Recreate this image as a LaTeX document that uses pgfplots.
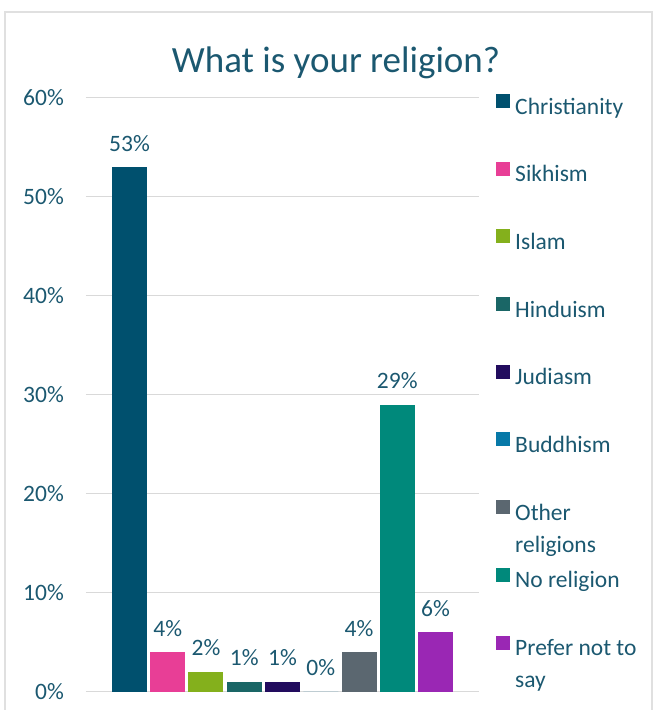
\documentclass[border=0pt]{standalone}
\usepackage{fontspec}
\setmainfont{Carlito}
\usepackage{pgfplots}
\pgfplotsset{compat=1.18}

\definecolor{txt}{RGB}{27,88,112}
\definecolor{cChr}{RGB}{0,80,110}
\definecolor{cSik}{RGB}{232,62,150}
\definecolor{cIsl}{RGB}{132,176,28}
\definecolor{cHin}{RGB}{26,102,102}
\definecolor{cJud}{RGB}{34,12,94}
\definecolor{cBud}{RGB}{7,121,168}
\definecolor{cOth}{RGB}{91,103,112}
\definecolor{cNon}{RGB}{0,137,123}
\definecolor{cPre}{RGB}{154,39,180}

\begin{document}
\begin{tikzpicture}[x=1pt,y=1pt]
\useasboundingbox (0,0) rectangle (665,-710);
\draw[black!12, line width=1.5pt] (5,-12) rectangle (652,-740);
\node[font=\fontsize{37}{40}\selectfont, text=txt, anchor=base] at (336,-72) {What is your religion?};
\begin{axis}[
  at={(86pt,-691.7pt)}, anchor=south west,
  scale only axis, width=393pt, height=594pt,
  ybar, bar width=35pt, bar shift=0pt,
  xmin=-1.137, xmax=9.137, ymin=0, ymax=60,
  xtick=\empty, ytick={0,10,...,60},
  yticklabel={\pgfmathprintnumber{\tick}\%},
  /pgf/number format/assume math mode=true,
  tick label style={font=\fontsize{23.5}{28}\selectfont, text=txt},
  yticklabel style={anchor=east, inner sep=0pt, xshift=-22pt},
  major tick length=0pt,
  axis line style={draw=none},
  ymajorgrids, grid style={draw=black!15, line width=1.5pt},
  nodes near coords={\pgfmathprintnumber{\pgfplotspointmeta}\%},
  every node near coord/.append style={font=\fontsize{23.5}{28}\selectfont, text=txt, anchor=base, inner sep=0pt, yshift=16pt},
  legend image code/.code={\fill[#1] (0pt,0.6pt) rectangle (14pt,14.6pt); \path (19pt,0pt);},
  legend cell align=left,
  legend style={at={(axis description cs:1.0433,1.0067)}, anchor=north west,
    draw=none, fill=none, inner sep=0pt, row sep=41.6pt,
    font=\fontsize{23.5}{32}\selectfont, text=txt,
    nodes={inner sep=0pt, text height=17pt, text depth=6pt}},
]
\addplot[fill=cChr, draw=none] coordinates {(0,53)};
\addlegendentry{Christianity}
\addplot[fill=cSik, draw=none] coordinates {(1,4)};
\addlegendentry{Sikhism}
\addplot[fill=cIsl, draw=none] coordinates {(2,2)};
\addlegendentry{Islam}
\addplot[fill=cHin, draw=none] coordinates {(3,1)};
\addlegendentry{Hinduism}
\addplot[fill=cJud, draw=none] coordinates {(4,1)};
\addlegendentry{Judiasm}
\addplot[fill=cBud, draw=none] coordinates {(5,0)};
\addlegendentry{Buddhism}
\addplot[fill=cOth, draw=none] coordinates {(6,4)};
\addlegendentry{\vtop{\hbox{Other}\hbox{religions}}}
\addplot[fill=cNon, draw=none] coordinates {(7,29)};
\addlegendentry{No religion}
\addplot[fill=cPre, draw=none] coordinates {(8,6)};
\addlegendentry{\vtop{\hbox{Prefer not to}\hbox{say}}}
\end{axis}
\end{tikzpicture}
\end{document}
